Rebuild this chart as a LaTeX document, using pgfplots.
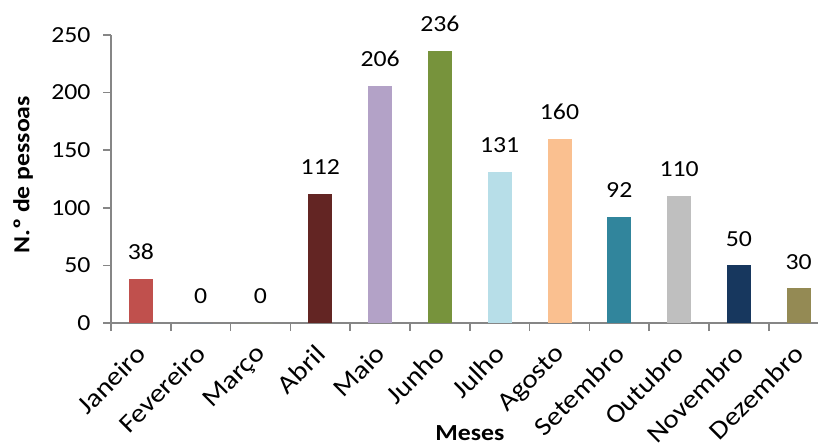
\documentclass[border=0pt]{standalone}
\usepackage{fontspec}
\setmainfont{Carlito}[FakeStretch=1.12]
\usepackage{pgfplots}
\pgfplotsset{compat=1.18}

\definecolor{cJan}{HTML}{C0504D}
\definecolor{cFev}{HTML}{4F81BD}
\definecolor{cMar}{HTML}{9BBB59}
\definecolor{cAbr}{HTML}{632523}
\definecolor{cMai}{HTML}{B3A2C7}
\definecolor{cJun}{HTML}{77933C}
\definecolor{cJul}{HTML}{B7DEE8}
\definecolor{cAgo}{HTML}{FAC090}
\definecolor{cSet}{HTML}{31859C}
\definecolor{cOut}{HTML}{BFBFBF}
\definecolor{cNov}{HTML}{17375E}
\definecolor{cDez}{HTML}{948A54}
\definecolor{axgray}{HTML}{868686}

\newcommand{\lblfont}{\fontsize{23bp}{27bp}\selectfont}
\newcommand{\catfont}{\fontsize{26bp}{30bp}\selectfont}

\begin{document}
\begin{tikzpicture}
\begin{axis}[
    scale only axis,
    width=717.6bp, height=288bp,
    xmin=-0.5, xmax=11.5,
    ymin=0, ymax=250,
    ytick={0,50,100,150,200,250},
    xtick={0,...,11},
    xticklabels={Janeiro,Fevereiro,Março,Abril,Maio,Junho,Julho,Agosto,Setembro,Outubro,Novembro,Dezembro},
    minor xtick={-0.5,0.5,...,11.5},
    axis x line*=bottom,
    axis y line*=left,
    axis line style={draw=axgray, line width=1.5bp},
    tick align=outside,
    major tick length=8bp,
    minor tick length=8bp,
    major x tick style={draw=none},
    minor x tick style={draw=axgray, line width=1.5bp},
    ytick style={draw=axgray, line width=1.5bp},
    /pgf/number format/assume math mode=true,
    tick label style={font=\lblfont, text=black},
    yticklabel style={xshift=-9bp},
    xticklabel style={font=\catfont, inner sep=0pt, xshift=-6bp, yshift=-12bp, rotate=45, anchor=north east},
    ybar, bar width=24bp, bar shift=0pt,
    nodes near coords,
    every node near coord/.append style={font=\lblfont, text=black, inner sep=0pt, anchor=south, yshift=19bp},
    clip=false,
]
\addplot[fill=cJan, draw=none] coordinates {(0,38)};
\addplot[fill=cFev, draw=none] coordinates {(1,0)};
\addplot[fill=cMar, draw=none] coordinates {(2,0)};
\addplot[fill=cAbr, draw=none] coordinates {(3,112)};
\addplot[fill=cMai, draw=none] coordinates {(4,206)};
\addplot[fill=cJun, draw=none] coordinates {(5,236)};
\addplot[fill=cJul, draw=none] coordinates {(6,131)};
\addplot[fill=cAgo, draw=none] coordinates {(7,160)};
\addplot[fill=cSet, draw=none] coordinates {(8,92)};
\addplot[fill=cOut, draw=none] coordinates {(9,110)};
\addplot[fill=cNov, draw=none] coordinates {(10,50)};
\addplot[fill=cDez, draw=none] coordinates {(11,30)};
\end{axis}
\node[rotate=90, font=\lblfont\bfseries] at (-88bp,148bp) {N.º de pessoas};
\node[font=\lblfont\bfseries, anchor=north, inner sep=0pt] at (358.8bp,-102bp) {Meses};
\pgfresetboundingbox
\useasboundingbox (-111bp,-122bp) rectangle (707bp,323bp);
\end{tikzpicture}
\end{document}
